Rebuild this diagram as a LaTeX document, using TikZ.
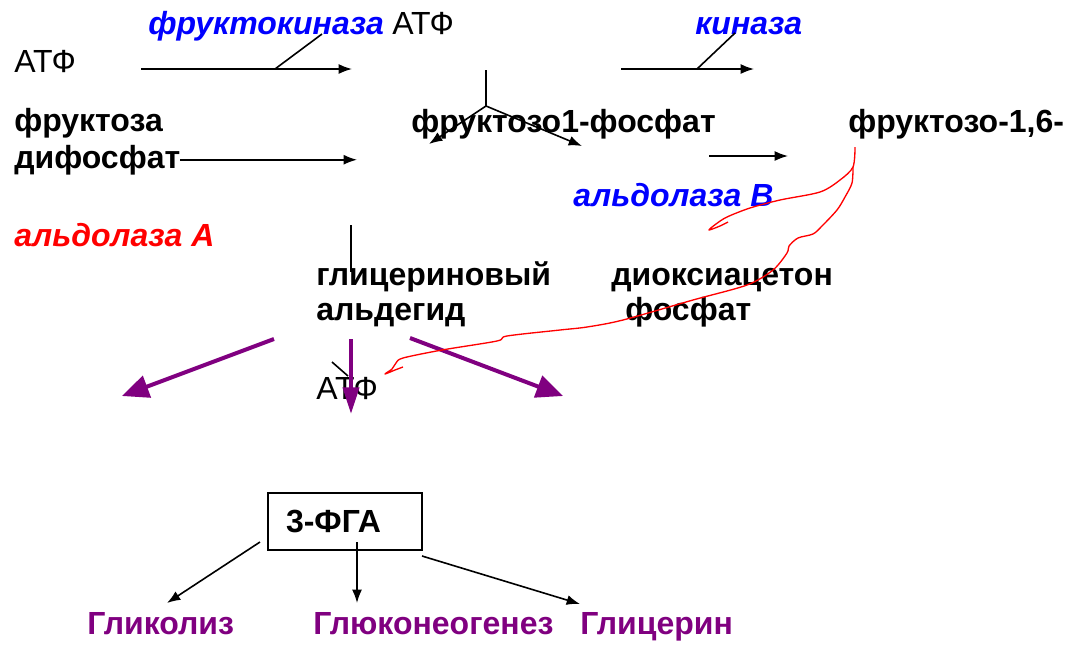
\documentclass[tikz,border=0pt]{standalone}
\usepackage{fontspec}
\setmainfont{Liberation Sans}
\usetikzlibrary{arrows.meta}
\definecolor{enzblue}{RGB}{0,0,255}
\definecolor{enzred}{RGB}{255,0,0}
\definecolor{waypurple}{RGB}{128,0,128}
\tikzset{
  txt/.style={anchor=base west,inner sep=0pt,font=\fontsize{24}{29}\selectfont},
  sub/.style={txt,font=\fontsize{24}{29}\selectfont\bfseries},
  enz/.style={txt,font=\fontsize{24}{29}\selectfont\bfseries\itshape},
  reac/.style={line width=1.2pt,-{Latex[length=10pt,width=7.5pt]}},
  way/.style={line width=3pt,color=waypurple,-{Triangle[length=20pt,width=17pt]}},
  scrawl/.style={line width=1pt,color=enzred,line join=round}
}
\begin{document}
\begin{tikzpicture}[x=0.75pt,y=-0.75pt]
\useasboundingbox (0,0) rectangle (1068,644);

\node[txt] (atfa) at (14,72) {АТФ};
\node[enz,text=enzblue] (fkin) at (148,34) {фруктокиназа};
\node[txt] (atfb) at (392,34) {АТФ};
\node[enz,text=enzblue] (kin) at (695,34) {киназа};
\node[sub] (fru) at (14,131) {фруктоза};
\node[sub] (difos) at (14,168) {дифосфат};
\node[sub] (fonep) at (411,132) {фруктозо1-фосфат};
\node[sub] (fbis) at (848,132) {фруктозо-1,6-};
\node[enz,text=enzblue] (aldb) at (573,206) {альдолаза В};
\node[enz,text=enzred] (alda) at (14,246) {альдолаза А};
\node[sub] (glya) at (316,285) {глицериновый};
\node[sub] (glyb) at (316,320) {альдегид};
\node[sub] (dhapa) at (611,285) {диоксиацетон};
\node[sub] (dhapb) at (625,320) {фосфат};
\node[txt] (atfc) at (316,399) {АТФ};
\node[draw,line width=1.2pt,anchor=center,inner sep=0pt,inner xsep=13.5pt,
  text width=88.5pt,align=left,minimum height=42.75pt,
  font=\fontsize{24}{29}\selectfont\bfseries] (fga) at (345,521.5) {3-ФГА};
\node[sub,text=waypurple] (glycol) at (87,634) {Гликолиз};
\node[sub,text=waypurple] (gng) at (313,634) {Глюконеогенез};
\node[sub,text=waypurple] (glyc) at (580,634) {Глицерин};

\coordinate (ra) at (141,69);
\coordinate (rb) at (352,69);
\coordinate (rc) at (275,69);
\coordinate (rd) at (322,34);
\coordinate (ka) at (621,69);
\coordinate (kb) at (754,69);
\coordinate (kc) at (697,69);
\coordinate (kd) at (735,33);
\coordinate (da) at (357,157);
\coordinate (ea) at (709,156);
\coordinate (eb) at (788,156);
\coordinate (sa) at (486,70);
\coordinate (sb) at (486,106);
\coordinate (sl) at (429,144);
\coordinate (sr) at (582,146);
\coordinate (va) at (351,225);
\coordinate (vb) at (351,272);
\coordinate (pl) at (274,339);
\coordinate (plt) at (122,396);
\coordinate (pm) at (351,339);
\coordinate (pmt) at (351,414);
\coordinate (pr) at (410,338);
\coordinate (prt) at (563,396);
\coordinate (xa) at (332,362);
\coordinate (xb) at (348,376);
\coordinate (ba) at (260,542);
\coordinate (bat) at (167,603);
\coordinate (bm) at (357,542);
\coordinate (bmt) at (357,603);
\coordinate (bb) at (422,556);
\coordinate (bbt) at (580,604);

\draw [reac] (ra) -- (rb);
\draw [line width=1.2pt] (rc) -- (rd);
\draw [reac] (ka) -- (kb);
\draw [line width=1.2pt] (kc) -- (kd);
\draw [reac] (difos.east) -- (difos.east -| da);
\draw [reac] (ea) -- (eb);
\draw [line width=1.2pt] (sa) -- (sb);
\draw [reac] (sb) -- (sl);
\draw [reac] (sb) -- (sr);
\draw [line width=1.2pt] (va) -- (vb);
\draw [way] (pl) -- (plt);
\draw [way,-{Triangle[length=20pt,width=12pt]}] (pm) -- (pmt);
\draw [way] (pr) -- (prt);
\draw [line width=1.2pt] (xa) -- (xb);
\draw [reac] (ba) -- (bat);
\draw [reac] (bm) -- (bmt);
\draw [reac] (bb) -- (bbt);

\draw [scrawl] plot[smooth,tension=0.5] coordinates {(855,147) (853,167) (840,180) (820,192) (780,200) (750,208) (727,217) (716,224) (709,230) (720,226) (728,222)};
\draw [scrawl] plot[smooth,tension=0.5] coordinates {(853,167) (852,183) (845,197) (837,210) (822,226) (813,234) (798,238) (789,246) (787,253) (773,270) (747,285) (693,300) (623,320) (587,327) (560,330) (507,336) (497,341) (442,350) (403,358) (396,363) (392,369) (385,374) (395,370) (403,367)};
\end{tikzpicture}
\end{document}
